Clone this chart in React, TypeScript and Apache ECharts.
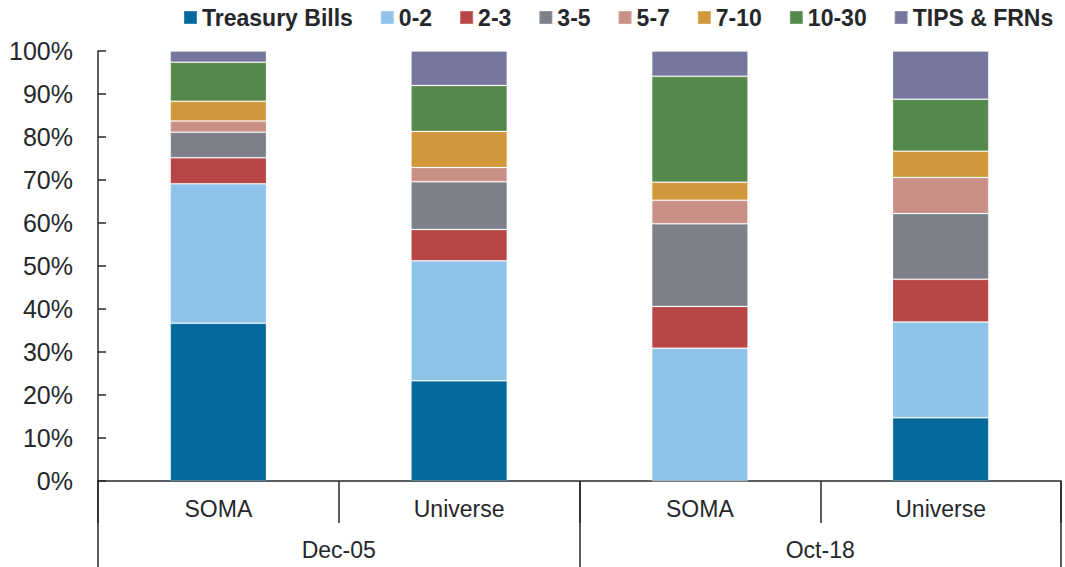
import React, { useEffect, useRef } from "react";
import * as echarts from "echarts";

const groups = ["Dec-05", "Oct-18"];
const holders = ["SOMA", "Universe", "SOMA", "Universe"];
const seriesNames = ["Treasury Bills", "0-2", "2-3", "3-5", "5-7", "7-10", "10-30", "TIPS & FRNs"];
const colors = ["#046a9c", "#90c3ea", "#b94646", "#7e8089", "#c99087", "#d0983b", "#55894c", "#77779d"];

// share of holdings (%) per bar: Dec-05 SOMA, Dec-05 Universe, Oct-18 SOMA, Oct-18 Universe
const treasuryBills = [36.7, 23.3, 0, 14.7];
const y0to2 = [32.4, 27.9, 30.9, 22.3];
const y2to3 = [6.1, 7.3, 9.7, 9.9];
const y3to5 = [5.9, 11.1, 19.2, 15.3];
const y5to7 = [2.6, 3.3, 5.5, 8.4];
const y7to10 = [4.6, 8.4, 4.2, 6.1];
const y10to30 = [9.1, 10.7, 24.6, 12.1];
const tipsFrns = [2.6, 8.0, 5.9, 11.2];
const yTicks = [0, 100, 10];

const seriesData = [treasuryBills, y0to2, y2to3, y3to5, y5to7, y7to10, y10to30, tipsFrns];

const FONT = "'Liberation Sans', Arial, sans-serif";
const DARK = "#25272b";

export default function App() {
  const ref = useRef<HTMLDivElement>(null);
  useEffect(() => {
    if (!ref.current) return;
    const chart = echarts.init(ref.current, null, { renderer: "svg" });
    chart.setOption({
      animation: false,
      color: colors,
      textStyle: { fontFamily: FONT },
      legend: {
        left: 178,
        top: 1,
        width: 900,
        itemWidth: 13,
        itemHeight: 13,
        itemGap: 27,
        icon: "rect",
        textStyle: { fontSize: 23, fontWeight: "bold", color: DARK, fontFamily: FONT },
        data: seriesNames,
      },
      grid: { left: 98, right: 4, top: 51, bottom: 86, containLabel: false },
      xAxis: [
        {
          type: "category",
          data: holders,
          position: "bottom",
          axisLine: { show: true, lineStyle: { color: DARK, width: 1.5 } },
          axisTick: { show: true, length: 42, alignWithLabel: false, lineStyle: { color: DARK, width: 1.5 } },
          axisLabel: { fontSize: 23, color: DARK, margin: 16, fontFamily: FONT },
        },
        {
          type: "category",
          data: groups,
          position: "bottom",
          axisLine: { show: false },
          axisTick: { show: true, length: 90, alignWithLabel: false, lineStyle: { color: DARK, width: 1.5 } },
          axisLabel: { fontSize: 23, color: DARK, margin: 57, fontFamily: FONT },
        },
      ],
      yAxis: {
        type: "value",
        min: yTicks[0],
        max: yTicks[1],
        interval: yTicks[2],
        axisLine: { show: true, lineStyle: { color: DARK, width: 1.5 } },
        axisTick: { show: true, inside: true, length: 8, lineStyle: { color: DARK, width: 1.5 } },
        splitLine: { show: false },
        axisLabel: { fontSize: 25, color: DARK, margin: 25, formatter: "{value}%", fontFamily: FONT },
      },
      series: seriesNames.map((name, i) => ({
        name,
        type: "bar",
        stack: "total",
        barWidth: "40%",
        xAxisIndex: 0,
        data: seriesData[i],
        itemStyle: { color: colors[i], borderColor: "rgba(255,255,255,0.2)", borderWidth: 1 },
      })),
    });
    return () => chart.dispose();
  }, []);
  return (
    <div
      ref={ref}
      style={{ position: "absolute", left: 0, top: 0, width: 1065, height: 567, background: "#fff" }}
    />
  );
}
